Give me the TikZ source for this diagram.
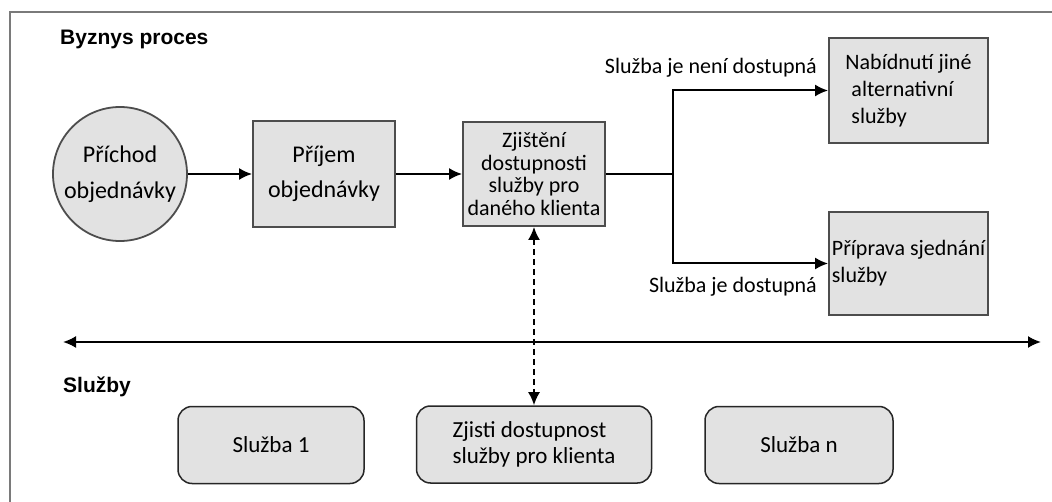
\documentclass[tikz,border=0pt]{standalone}
\usepackage{fontspec}
\setmainfont{Carlito}
\newfontfamily\headfont{Liberation Sans}
\usetikzlibrary{arrows.meta}
\definecolor{boxfill}{HTML}{E2E2E2}
\definecolor{boxline}{HTML}{4D4D4D}
\definecolor{framegray}{HTML}{7A7A7A}

\begin{document}
\begin{tikzpicture}[x=1pt, y=-1pt, >={Latex[length=13pt,width=12pt]},
  procbox/.style={draw=boxline, fill=boxfill, line width=1.8pt, inner sep=1pt, font=\fontsize{22}{27}\selectfont},
  servbox/.style={draw=black!85, fill=boxfill, line width=1.5pt, rounded corners=14pt, minimum height=77pt, inner sep=2pt, font=\fontsize{23}{26}\selectfont},
  flow/.style={line width=2pt, ->},
  heading/.style={anchor=west, inner sep=0pt, font=\headfont\bfseries\fontsize{21}{25}\selectfont},
  note/.style={anchor=east, inner sep=0pt, font=\fontsize{22}{26}\selectfont}]
  \useasboundingbox (0,0) rectangle (1052,502);
  \draw [framegray, line width=2pt] (10,502) -- (10,12) -- (1052,12);
  \node [heading] (byznys) at (60,39) {Byznys proces};
  \node [procbox, circle, minimum size=134pt, align=center, font=\fontsize{24}{36}\selectfont] (prichod) at (120,174) {Příchod\\objednávky};
  \node [procbox, minimum width=142pt, minimum height=106pt, align=center, font=\fontsize{24}{35}\selectfont] (prijem) at (324,174) {Příjem\\objednávky};
  \node [procbox, minimum width=142pt, minimum height=104pt, align=center, font=\fontsize{22}{22.5}\selectfont] (zjisteni) at (534,174) {Zjištění\\dostupnosti\\služby pro\\daného klienta};
  \coordinate (vetev) at (673,174);
  \node [procbox, minimum width=159pt, minimum height=105pt, align=left] (nabidnuti) at (908.5,90.5) {Nabídnutí jiné\\\hspace*{6pt}alternativní\\\hspace*{6pt}služby};
  \node [procbox, minimum width=159pt, minimum height=103pt, align=left] (priprava) at (908.5,263.5) {Příprava sjednání\\služby};
  \draw [flow] (prichod) -- (prijem);
  \draw [flow] (prijem) -- (zjisteni);
  \draw [line width=2pt] (zjisteni) -- (vetev);
  \draw [flow] (vetev) |- (nabidnuti);
  \draw [flow] (vetev) |- (priprava);
  \node [note] (nedostupna) at (817,68) {Služba je není dostupná};
  \node [note] (dostupna) at (817,287) {Služba je dostupná};
  \coordinate (osa-l) at (63,342);
  \coordinate (osa-p) at (1041,342);
  \draw [line width=2pt, <->] (osa-l) -- (osa-p);
  \node [heading] (sluzby) at (63,387) {Služby};
  \node [servbox, minimum width=186pt] (sluzba1) at (271,445) {Služba 1};
  \node [servbox, minimum width=235pt, align=left] (zjisti) at (534,444.5) {Zjisti dostupnost\\služby pro klienta};
  \node [servbox, minimum width=188pt] (sluzban) at (799,445) {Služba n};
  \draw [line width=2pt, dash pattern=on 6pt off 4pt, <->] (zjisteni.south) -- (zjisti.north);
\end{tikzpicture}
\end{document}
